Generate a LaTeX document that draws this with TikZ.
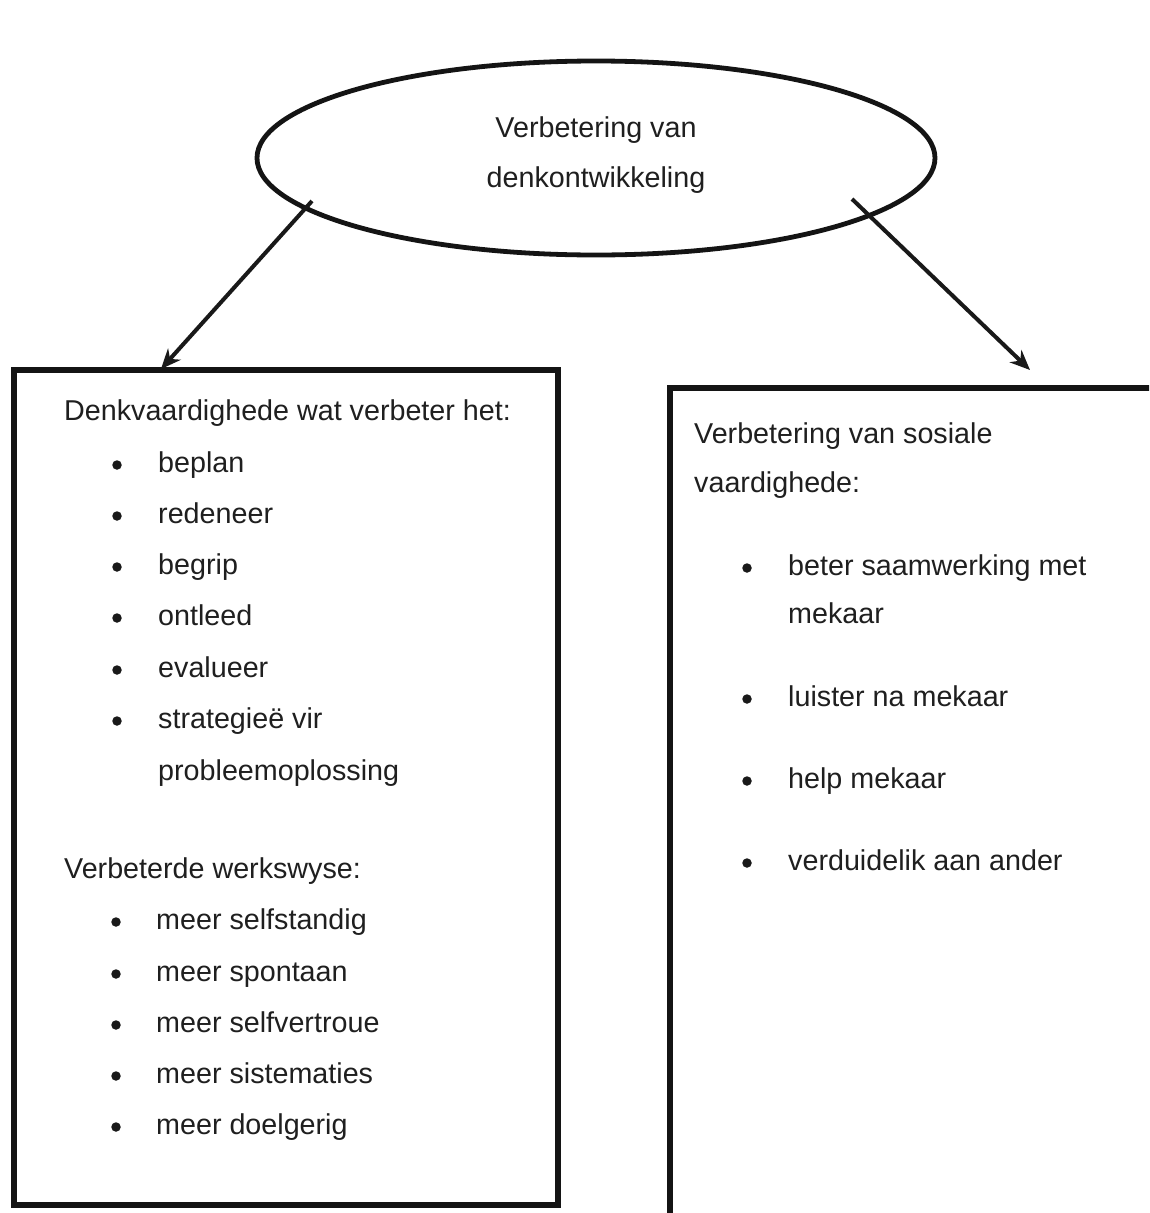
\documentclass[tikz,border=0pt]{standalone}
\usepackage{fontspec}
\setmainfont{Liberation Sans}
\usetikzlibrary{shapes.geometric,arrows.meta}
\begin{document}
\begin{tikzpicture}[x=1pt,y=-1pt,
  txt/.style={anchor=base west, inner sep=0pt, font=\fontsize{28.7}{34}\selectfont, text=black!88},
  ctxt/.style={anchor=base, inner sep=0pt, font=\fontsize{28.7}{34}\selectfont, text=black!88},
  dot/.style={circle, fill=black!90, inner sep=0pt, minimum size=9.5pt},
  box/.style={draw=black!92, line width=5.4pt, rectangle, inner sep=0pt},
  oval/.style={draw=black!92, line width=4.8pt, ellipse, inner sep=0pt},
  arr/.style={draw=black!90, line width=4pt, -{Stealth[length=20pt,width=17pt]}}]
\path[use as bounding box, fill=white] (0,0) rectangle (1149,1213);
\clip (0,0) rectangle (1149,1213);

% central ellipse
\node[oval, minimum width=678pt, minimum height=194pt] (top) at (596,158) {};
\node[ctxt] (t1) at (596,137) {Verbetering van};
\node[ctxt] (t2) at (596,187) {denkontwikkeling};

% boxes
\node[box, minimum width=544pt, minimum height=835pt] (left) at (286,787.5) {};
\node[box, minimum width=510pt, minimum height=862pt] (right) at (925,819) {};

% arrows
\coordinate (s1) at (312,201);
\coordinate (e1) at (161,369);
\coordinate (s2) at (852,199);
\coordinate (e2) at (1030,370);
\draw[arr] (s1) -- (e1);
\draw[arr] (s2) -- (e2);

% left box text
\node[txt] (lh1) at (64,420) {Denkvaardighede wat verbeter het:};
\node[dot] (lb1) at (117,465) {}; \node[txt] (li1) at (158,472) {beplan};
\node[dot] (lb2) at (117,516) {}; \node[txt] (li2) at (158,523) {redeneer};
\node[dot] (lb3) at (117,567) {}; \node[txt] (li3) at (158,574) {begrip};
\node[dot] (lb4) at (117,618) {}; \node[txt] (li4) at (158,625) {ontleed};
\node[dot] (lb5) at (117,670) {}; \node[txt] (li5) at (158,677) {evalueer};
\node[dot] (lb6) at (117,721) {}; \node[txt] (li6) at (158,728) {strategieë vir};
\node[txt] (li7) at (158,780) {probleemoplossing};

\node[txt] (lh2) at (64,878) {Verbeterde werkswyse:};
\node[dot] (lc1) at (116,922) {}; \node[txt] (lj1) at (156,929) {meer selfstandig};
\node[dot] (lc2) at (116,974) {}; \node[txt] (lj2) at (156,981) {meer spontaan};
\node[dot] (lc3) at (116,1025) {}; \node[txt] (lj3) at (156,1032) {meer selfvertroue};
\node[dot] (lc4) at (116,1076) {}; \node[txt] (lj4) at (156,1083) {meer sistematies};
\node[dot] (lc5) at (116,1127) {}; \node[txt] (lj5) at (156,1134) {meer doelgerig};

% right box text
\node[txt] (rh1) at (694,443) {Verbetering van sosiale};
\node[txt] (rh2) at (694,492) {vaardighede:};
\node[dot] (rb1) at (747,568) {}; \node[txt] (ri1) at (788,575) {beter saamwerking met};
\node[txt] (ri1b) at (788,623) {mekaar};
\node[dot] (rb2) at (747,699) {}; \node[txt] (ri2) at (788,706) {luister na mekaar};
\node[dot] (rb3) at (747,781) {}; \node[txt] (ri3) at (788,788) {help mekaar};
\node[dot] (rb4) at (747,863) {}; \node[txt] (ri4) at (788,870) {verduidelik aan ander};
\end{tikzpicture}
\end{document}
